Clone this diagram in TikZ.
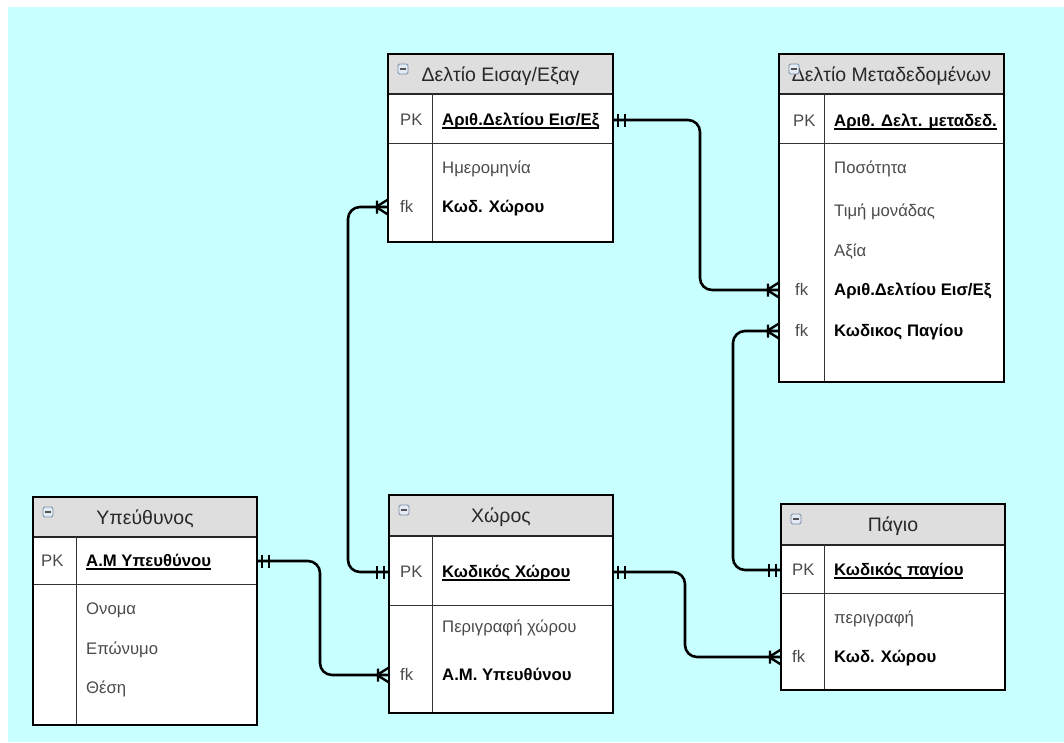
\documentclass[tikz,border=0pt]{standalone}
\usepackage{fontspec}
\setmainfont{Liberation Sans}
\usetikzlibrary{calc}

\definecolor{canvas}{RGB}{200,255,255}
\definecolor{hdrgray}{RGB}{222,222,222}
\definecolor{txtgray}{RGB}{75,75,75}
\definecolor{titlegray}{RGB}{40,40,40}
\definecolor{iconedge}{RGB}{120,140,165}
\definecolor{iconfill}{RGB}{228,235,244}

\tikzset{
  entframe/.style={draw=black, line width=2.6pt, inner sep=0pt, outer sep=0pt},
  hdrrule/.style={draw=black!85, line width=1.6pt},
  thinrule/.style={draw=black!80, line width=1pt},
  enttitle/.style={inner sep=0pt, text=titlegray, font=\fontsize{19.5}{22}\selectfont},
  iconbox/.style={draw=iconedge, fill=iconfill, line width=0.8pt, rounded corners=1.5pt,
    minimum size=10pt, inner sep=0pt},
  iconminus/.style={draw=titlegray!80, line width=1.3pt},
  rowtext/.style={anchor=west, inner xsep=0pt, inner ysep=0pt, text height=13pt,
    text depth=2pt, font=\fontsize{16.7}{18}\selectfont},
  tag/.style={rowtext, text=txtgray},
  attr/.style={rowtext, text=txtgray},
  keyattr/.style={rowtext, text=black, font=\fontsize{16.7}{18}\selectfont\bfseries},
  conn/.style={draw=black, line width=2.6pt, rounded corners=12pt},
  marker/.style={draw=black, line width=2.4pt},
  pics/erone/.style={code={\draw[marker] (5,-6.5) -- (5,6.5) (12,-6.5) -- (12,6.5);}},
  pics/ermany/.style={code={\draw[marker] (11,-6.5) -- (11,6.5) (0,-7.5) -- (12,0) -- (0,7.5);}},
}

% underlined key name, with a slightly heavier rule than \underline
\newcommand\keyname[1]{\setbox0\hbox{#1}\leavevmode\rlap{\rule[-3.2pt]{\wd0}{1.3pt}}\box0}

% #1 name, #2 left, #3 top, #4 right, #5 header bottom, #6 key row bottom,
% #7 bottom, #8 key column divider, #9 title
\newcommand\erentity[9]{%
  \pgfmathsetmacro\eW{#4-#2}%
  \pgfmathsetmacro\eH{#7-#3}%
  \pgfmathsetmacro\eCx{(#2+#4)/2}%
  \pgfmathsetmacro\eCy{(#3+#7)/2}%
  \fill[white] (#2,#3) rectangle (#4,#7);
  \fill[hdrgray] (#2,#3) rectangle (#4,#5);
  \draw[hdrrule] (#2,#5) -- (#4,#5);
  \draw[thinrule] (#2,#6) -- (#4,#6);
  \draw[thinrule] (#8,#5) -- (#8,#7);
  \node[entframe, minimum width=\eW, minimum height=\eH] (#1) at (\eCx,\eCy) {};
  \node[enttitle] (#1-title) at (\eCx,{#3/2+#5/2+2}) {#9};
  \node[iconbox] (#1-icon) at (#2+15,#3+15) {};
  \draw[iconminus] (#2+12,#3+15) -- (#2+18,#3+15);
}

\begin{document}
\begin{tikzpicture}[x=1pt,y=-1pt]
\useasboundingbox (0,0) rectangle (1064,742);
\fill[white] (0,0) rectangle (1064,742);
\fill[canvas] (8,7) rectangle (1064,742);

% ---------- entities ----------
\erentity{t1}{388}{54}{613}{94}{143}{242}{432}{Δελτίο Εισαγ/Εξαγ}
\node[tag] (t1-pktag) at (400,120) {PK};
\node[keyattr] (t1-pk) at (442,120) {\keyname{Αριθ.Δελτίου Εισ/Εξ}};
\node[attr] (t1-a1) at (442,168) {Ημερομηνία};
\node[tag] (t1-fktag) at (400,207) {fk};
\node[keyattr] (t1-fk) at (442,207) {Κωδ. Χώρου};

\erentity{t2}{779}{54}{1004}{94}{143}{382}{824}{Δελτίο Μεταδεδομένων}
\node[tag] (t2-pktag) at (793,121) {PK};
\node[keyattr] (t2-pk) at (834,121) {\keyname{Αριθ. Δελτ. μεταδεδ.}};
\node[attr] (t2-a1) at (834,168) {Ποσότητα};
\node[attr] (t2-a2) at (834,211) {Τιμή μονάδας};
\node[attr] (t2-a3) at (834,251) {Αξία};
\node[tag] (t2-fk1tag) at (795,290) {fk};
\node[keyattr] (t2-fk1) at (834,290) {Αριθ.Δελτίου Εισ/Εξ};
\node[tag] (t2-fk2tag) at (795,331) {fk};
\node[keyattr] (t2-fk2) at (834,331) {Κωδικος Παγίου};

\erentity{t3}{33}{497}{257}{537}{584}{725}{76}{Υπεύθυνος}
\node[tag] (t3-pktag) at (41,561) {PK};
\node[keyattr] (t3-pk) at (86,561) {\keyname{Α.Μ Υπευθύνου}};
\node[attr] (t3-a1) at (86,609) {Ονομα};
\node[attr] (t3-a2) at (86,649) {Επώνυμο};
\node[attr] (t3-a3) at (86,688) {Θέση};

\erentity{t4}{389}{495}{613}{536}{605}{713}{432}{Χώρος}
\node[tag] (t4-pktag) at (400,572) {PK};
\node[keyattr] (t4-pk) at (442,572) {\keyname{Κωδικός Χώρου}};
\node[attr] (t4-a1) at (442,627) {Περιγραφή χώρου};
\node[tag] (t4-fktag) at (400,675) {fk};
\node[keyattr] (t4-fk) at (442,675) {Α.Μ. Υπευθύνου};

\erentity{t5}{781}{504}{1005}{545}{593}{690}{824}{Πάγιο}
\node[tag] (t5-pktag) at (792,570) {PK};
\node[keyattr] (t5-pk) at (834,570) {\keyname{Κωδικός παγίου}};
\node[attr] (t5-a1) at (834,618) {περιγραφή};
\node[tag] (t5-fktag) at (792,657) {fk};
\node[keyattr] (t5-fk) at (834,657) {Κωδ. Χώρου};

% ---------- routing columns ----------
\coordinate (colA) at (700,0);
\coordinate (colB) at (733,0);
\coordinate (colC) at (348,0);
\coordinate (colD) at (320,0);
\coordinate (colE) at (685,0);

% ---------- relationships ----------
\draw[conn] (t1.east |- t1-pk) -| (colA |- t2-fk1) -- (t2.west |- t2-fk1);
\draw[conn] (t5.west |- t5-pk) -| (colB |- t2-fk2) -- (t2.west |- t2-fk2);
\draw[conn] (t4.west |- t4-pk) -| (colC |- t1-fk) -- (t1.west |- t1-fk);
\draw[conn] (t3.east |- t3-pk) -| (colD |- t4-fk) -- (t4.west |- t4-fk);
\draw[conn] (t4.east |- t4-pk) -| (colE |- t5-fk) -- (t5.west |- t5-fk);

% ---------- cardinality marks ----------
\pic at (t1.east |- t1-pk) {erone};
\pic[rotate=180] at (t2.west |- t2-fk1) {ermany};
\pic[rotate=180] at (t5.west |- t5-pk) {erone};
\pic[rotate=180] at (t2.west |- t2-fk2) {ermany};
\pic[rotate=180] at (t4.west |- t4-pk) {erone};
\pic[rotate=180] at (t1.west |- t1-fk) {ermany};
\pic at (t3.east |- t3-pk) {erone};
\pic[rotate=180] at (t4.west |- t4-fk) {ermany};
\pic at (t4.east |- t4-pk) {erone};
\pic[rotate=180] at (t5.west |- t5-fk) {ermany};
\end{tikzpicture}
\end{document}
